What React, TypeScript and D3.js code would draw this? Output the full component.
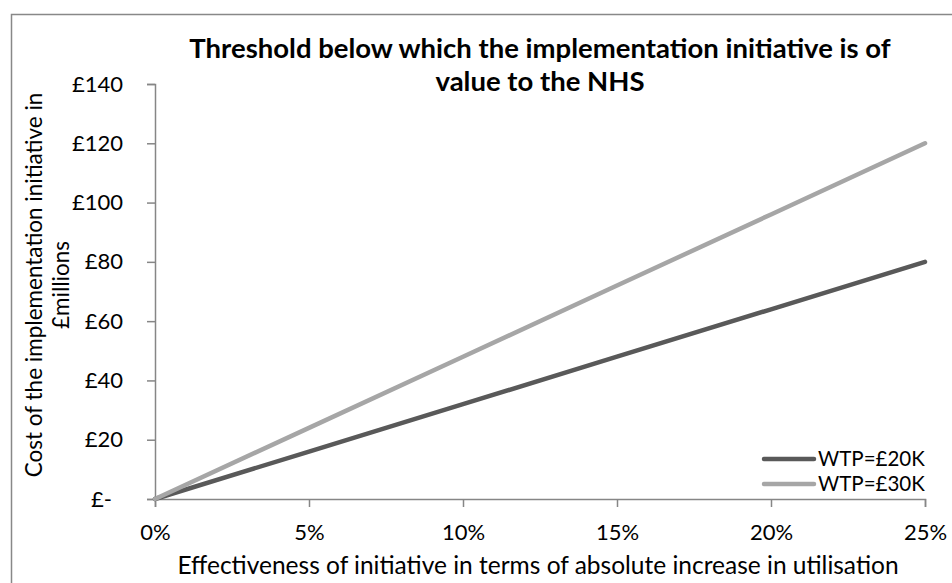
import { useEffect, useRef } from "react";
import * as d3 from "d3";

const effectiveness = [0, 0.05, 0.1, 0.15, 0.2, 0.25];
const wtp20 = [0, 16, 32, 48, 64, 80];
const wtp30 = [0, 24, 48, 72, 96, 120];
const seriesNames = ["WTP=£20K", "WTP=£30K"];
const seriesColors = ["#595959", "#a6a6a6"];
const yTicks = [0, 20, 40, 60, 80, 100, 120, 140];
const titleLines = ["Threshold below which the implementation initiative is of", "value to the NHS"];
const yTitleLines = ["Cost of the implementation initiative in", "£millions"];
const xTitle = "Effectiveness of initiative in terms of absolute increase in utilisation";

const W = 952;
const H = 583;
const FONT = "Lato, 'Open Sans', sans-serif";

export default function App() {
  const svgRef = useRef<SVGSVGElement | null>(null);

  useEffect(() => {
    const svg = d3.select(svgRef.current);
    svg.selectAll("*").remove();

    // chart frame (runs past the right/bottom edge in the original)
    svg
      .append("rect")
      .attr("x", 11.5)
      .attr("y", 14.5)
      .attr("width", W)
      .attr("height", H)
      .attr("fill", "#fff")
      .attr("stroke", "#888")
      .attr("stroke-width", 1.5);

    const x = d3.scaleLinear().domain([0, 0.25]).range([155, 925]);
    const y = d3.scaleLinear().domain([0, 140]).range([499, 84]);

    const axisColor = "#868686";

    const yAxis = svg
      .append("g")
      .attr("transform", "translate(155,0)")
      .call(
        d3
          .axisLeft(y)
          .tickValues(yTicks)
          .tickSize(8)
          .tickPadding(24)
          .tickFormat((d) => (d === 0 ? "£-" : `£${d}`))
      );
    yAxis.selectAll("text").attr("font-size", 22).attr("font-family", FONT).attr("fill", "#000");
    yAxis
      .selectAll<SVGTextElement, number>("text")
      .filter((d) => d === 0)
      .attr("dx", -11);

    const xAxis = svg
      .append("g")
      .attr("transform", "translate(0,499)")
      .call(
        d3
          .axisBottom(x)
          .tickValues(effectiveness)
          .tickSize(8)
          .tickPadding(17)
          .tickFormat(d3.format(".0%"))
      );
    xAxis.selectAll("text").attr("font-size", 22).attr("font-family", FONT).attr("fill", "#000");

    svg.selectAll(".domain").attr("stroke", axisColor).attr("stroke-width", 1.5);
    svg.selectAll(".tick line").attr("stroke", axisColor).attr("stroke-width", 1.5);

    const line = d3
      .line<number>()
      .x((_, i) => x(effectiveness[i]))
      .y((v) => y(v));

    [wtp20, wtp30].forEach((vals, i) => {
      svg
        .append("path")
        .datum(vals)
        .attr("fill", "none")
        .attr("stroke", seriesColors[i])
        .attr("stroke-width", 4.5)
        .attr("stroke-linecap", "round")
        .attr("d", line);
    });

    // legend
    const leg = svg.append("g");
    seriesNames.forEach((name, i) => {
      const ly = 459 + i * 25;
      leg
        .append("line")
        .attr("x1", 764)
        .attr("x2", 814)
        .attr("y1", ly)
        .attr("y2", ly)
        .attr("stroke", seriesColors[i])
        .attr("stroke-width", 4.5)
        .attr("stroke-linecap", "round");
      leg
        .append("text")
        .attr("x", 818)
        .attr("y", ly)
        .attr("dy", "0.35em")
        .attr("font-size", 20.5)
        .attr("font-family", FONT)
        .text(name);
    });

    // title
    svg
      .append("text")
      .attr("text-anchor", "middle")
      .attr("font-size", 27.5)
      .attr("font-weight", "bold")
      .attr("font-family", FONT)
      .selectAll("tspan")
      .data(titleLines)
      .enter()
      .append("tspan")
      .attr("x", 540)
      .attr("y", (_, i) => 58 + i * 33)
      .text((d) => d);

    // y title
    svg
      .append("text")
      .attr("text-anchor", "middle")
      .attr("font-size", 22.5)
      .attr("font-family", FONT)
      .attr("transform", "translate(0,285) rotate(-90)")
      .selectAll("tspan")
      .data(yTitleLines)
      .enter()
      .append("tspan")
      .attr("x", 0)
      .attr("y", (_, i) => 42 + i * 27)
      .text((d) => d);

    // x title
    svg
      .append("text")
      .attr("x", 538)
      .attr("y", 574)
      .attr("text-anchor", "middle")
      .attr("font-size", 24.5)
      .attr("font-family", FONT)
      .text(xTitle);
  }, []);

  return (
    <svg
      ref={svgRef}
      width={W}
      height={H}
      style={{ position: "absolute", left: 0, top: 0, display: "block", background: "#fff" }}
    />
  );
}
